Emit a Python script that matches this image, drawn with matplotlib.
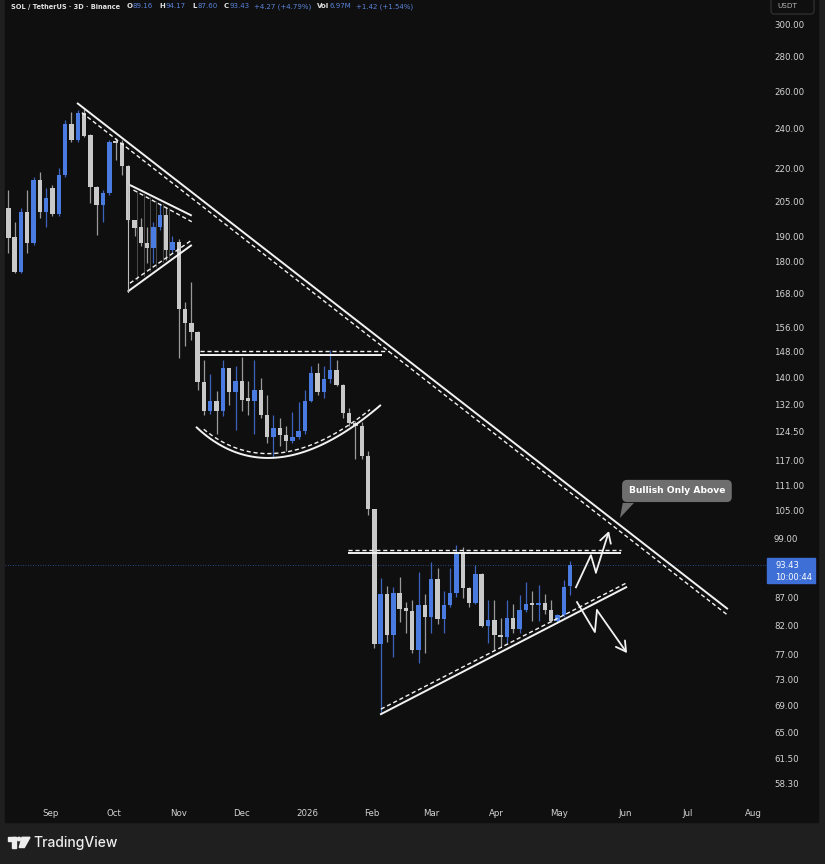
import numpy as np
import pandas as pd
import matplotlib
matplotlib.use('Agg')
import matplotlib.pyplot as plt
import matplotlib.dates as mdates
import matplotlib.transforms as mtransforms
from matplotlib.patches import Rectangle, FancyBboxPatch, Polygon, Circle
from matplotlib.ticker import FixedLocator, NullLocator, FuncFormatter

W, H = 825, 864

# SOL / USDT, 3-day candles
dates = pd.date_range('2025-08-12', periods=90, freq='3D')
opens = [202.0, 189.9, 176.0, 200.4, 187.1, 214.5, 200.4, 210.8, 199.6, 216.9,
         242.4, 234.2, 247.9, 236.5, 211.5, 203.3, 208.5, 233.1, 232.3, 221.2,
         196.9, 194.0, 187.1, 185.2, 194.0, 199.0, 184.5, 187.8, 162.5, 157.5,
         154.5, 138.8, 130.4, 133.2, 130.4, 142.9, 135.8, 139.0, 133.5, 133.2,
         136.3, 129.2, 123.2, 125.7, 123.7, 122.1, 123.1, 124.8, 133.2, 141.4,
         135.8, 139.5, 142.4, 137.8, 129.7, 127.0, 126.0, 118.1, 105.4, 78.8,
         87.8, 80.2, 88.0, 85.0, 84.6, 77.8, 85.7, 83.5, 90.7, 83.1,
         85.7, 88.0, 96.0, 88.8, 86.1, 91.6, 81.9, 83.0, 80.3, 79.9,
         83.2, 81.3, 84.7, 85.9, 85.6, 86.0, 84.7, 82.8, 83.8, 89.16]
highs = [210.0, 196.1, 201.9, 210.0, 216.1, 218.4, 210.8, 212.3, 220.1, 244.2,
         248.4, 249.5, 250.3, 237.0, 212.0, 210.0, 233.9, 235.0, 234.0, 221.5,
         197.0, 197.6, 194.0, 196.1, 204.0, 202.5, 190.0, 188.8, 165.0, 172.0,
         155.0, 145.3, 141.0, 136.0, 145.3, 143.0, 143.5, 146.5, 139.0, 145.3,
         139.8, 134.9, 129.2, 128.3, 126.0, 130.0, 132.9, 136.3, 143.5, 144.6,
         143.5, 148.6, 145.3, 138.0, 131.0, 127.5, 127.2, 119.4, 105.5, 90.8,
         89.3, 89.1, 91.0, 86.2, 86.5, 92.0, 87.8, 94.1, 92.8, 88.2,
         92.8, 97.5, 97.2, 89.1, 93.4, 91.8, 86.5, 86.5, 83.2, 86.6,
         85.9, 87.5, 90.0, 88.2, 89.4, 87.8, 86.6, 84.1, 90.4, 94.17]
lows = [183.3, 175.5, 175.5, 183.3, 186.5, 197.6, 194.0, 198.5, 198.5, 216.0,
        233.0, 233.0, 235.5, 204.0, 190.6, 196.1, 207.8, 224.0, 217.0, 196.0,
        190.0, 186.0, 179.3, 179.3, 192.7, 180.5, 183.3, 146.0, 149.8, 152.0,
        136.3, 129.2, 129.5, 124.0, 128.9, 132.0, 125.0, 130.4, 129.2, 124.0,
        128.3, 121.5, 117.7, 120.7, 119.4, 121.5, 122.6, 124.0, 132.7, 134.9,
        134.0, 138.3, 137.5, 128.4, 126.0, 117.5, 117.4, 104.0, 78.0, 67.7,
        79.0, 76.6, 82.6, 80.6, 77.2, 75.5, 77.2, 80.6, 82.3, 80.6,
        85.3, 87.2, 86.9, 85.3, 85.9, 81.7, 78.9, 77.7, 78.3, 78.9,
        80.6, 80.6, 84.4, 82.8, 82.8, 84.1, 82.5, 82.5, 83.5, 87.60]
closes = [189.4, 176.0, 200.4, 187.1, 214.5, 200.4, 206.3, 199.6, 216.9, 242.4,
          234.2, 247.9, 236.0, 211.5, 203.3, 208.5, 233.1, 232.3, 221.2, 196.9,
          193.3, 187.1, 185.2, 194.0, 199.0, 184.5, 187.8, 162.5, 157.5, 154.5,
          138.8, 130.4, 133.2, 130.4, 142.9, 135.8, 139.0, 133.5, 133.2, 136.3,
          129.2, 123.2, 125.7, 123.7, 122.1, 123.1, 124.8, 133.2, 141.4, 135.8,
          139.5, 142.4, 137.8, 129.7, 127.0, 126.0, 118.1, 105.4, 78.8, 87.8,
          80.2, 88.0, 85.0, 84.6, 77.8, 85.7, 83.5, 90.7, 83.1, 85.7,
          88.0, 96.0, 88.8, 86.1, 91.6, 81.9, 83.0, 80.3, 79.9, 83.2,
          81.3, 84.7, 85.9, 85.6, 86.0, 84.7, 82.8, 83.8, 89.0, 93.43]

price_ticks = [300, 280, 260, 240, 220, 205, 190, 180, 168, 156, 148, 140, 132,
               124.5, 117, 111, 105, 99, 87, 82, 77, 73, 69, 65, 61.5, 58.3]
month_ticks = ['2025-09-01', '2025-10-01', '2025-11-01', '2025-12-01', '2026-01-01',
               '2026-02-01', '2026-03-01', '2026-04-01', '2026-05-01', '2026-06-01',
               '2026-07-01', '2026-08-01']
month_labels = ['Sep', 'Oct', 'Nov', 'Dec', '2026', 'Feb', 'Mar', 'Apr', 'May',
                'Jun', 'Jul', 'Aug']
last_price = 93.43

# drawings on the chart (date, price)
main_line = [('2025-09-13 16:00', 253.5), ('2026-07-20', 84.9)]
main_dash = [('2025-09-16', 248.2), ('2026-07-19 14:00', 83.9)]
flag_top = [('2025-10-08 19:00', 212.3), ('2025-11-07 05:00', 198.7)]
flag_top_dash = [('2025-10-10 12:00', 210.0), ('2025-11-07 05:00', 196.1)]
flag_bot = [('2025-10-07 17:00', 168.6), ('2025-11-07 05:00', 186.5)]
flag_bot_dash = [('2025-10-08 19:00', 171.7), ('2025-11-07 05:00', 188.5)]
flag_edge = [('2025-10-07 17:00', 212.3), ('2025-10-07 17:00', 168.6)]
round_top = [('2025-11-11', 147.0), ('2026-02-05 12:00', 147.0)]
round_top_dash = [('2025-11-11', 148.4), ('2026-02-09', 148.4)]
round_arc = [('2025-11-09 05:00', 125.9), ('2025-12-15 07:00', 107.8), ('2026-02-05 02:00', 132.0)]
range_top = [('2026-01-20 14:00', 95.8), ('2026-05-30 05:00', 95.8)]
range_top_dash = [('2026-01-20 14:00', 96.5), ('2026-05-30 05:00', 96.5)]
rise_line = [('2026-02-04 17:00', 67.6), ('2026-06-02 02:00', 89.1)]
rise_dash = [('2026-02-05 02:00', 68.4), ('2026-06-02 02:00', 89.9)]
up_path = [('2026-05-08 19:00', 89.0), ('2026-05-15 22:00', 95.4),
           ('2026-05-18 07:00', 91.9), ('2026-05-24 12:00', 100.5)]
down_path = [('2026-05-09 07:00', 86.2), ('2026-05-17 19:00', 80.8),
             ('2026-05-18 19:00', 84.7), ('2026-06-02 02:00', 77.2)]
callout_tip = ('2026-05-29 17:00', 103.4)
callout_base = [('2026-05-31 01:00', 106.8), ('2026-06-05 09:00', 106.8)]
callout_text = ('2026-06-25 19:00', 109.6)

BG = '#0f0f0f'
OUTER = '#1f1f1f'
BLUE = '#4a7be0'
GRAY = '#c9c9c9'
TXT = '#d4d4d4'
LINE = '#f2f2f2'


def num(s):
    return mdates.date2num(pd.Timestamp(s))


def pts(p):
    return [num(a) for a, b in p], [b for a, b in p]


fig = plt.figure(figsize=(W / 100, H / 100), dpi=100, facecolor=OUTER)
px = mtransforms.Affine2D().scale(1 / W, -1 / H).translate(0, 1) + fig.transFigure
fig.patches.append(Rectangle((5, 0), 813, 822, transform=px, color=BG, zorder=-5))

ax = fig.add_axes([5 / W, (H - 797) / H, 762 / W, 797 / H])
ax.set_facecolor(BG)
for s in ax.spines.values():
    s.set_visible(False)

x = mdates.date2num(dates)
o, h, l, c = map(np.array, (opens, highs, lows, closes))
up = c >= o
ax.vlines(x, l, h, colors=np.where(up, '#3d64bd', '#9a9a9a'), lw=0.9, zorder=2)
lo = np.minimum(o, c)
hi = np.maximum(np.maximum(o, c), lo * 1.005)
ax.bar(x, hi - lo, bottom=lo, width=2.1, color=np.where(up, BLUE, GRAY), lw=0, zorder=3)

ax.set_yscale('log')
ax.set_ylim(56.57, 316.65)
ax.set_xlim(x[0] - 1.57, x[0] + 360.6)
ax.yaxis.set_major_locator(FixedLocator(price_ticks))
ax.yaxis.set_minor_locator(NullLocator())
ax.yaxis.set_major_formatter(FuncFormatter(lambda v, p: f'{v:.2f}'))
ax.yaxis.tick_right()
ax.tick_params(axis='y', length=0, pad=5, labelsize=6.2, labelcolor=TXT)
ax.set_xticks(mdates.date2num(pd.to_datetime(month_ticks)))
ax.set_xticklabels(month_labels)
ax.tick_params(axis='x', length=0, pad=9, labelsize=6.2, labelcolor=TXT)

# last price line
ax.axhline(last_price, color='#3d6fd6', lw=0.6, ls=(0, (1, 2)), alpha=0.8, zorder=1)

solid = dict(color=LINE, lw=1.4, zorder=4, solid_capstyle='butt')
dashed = dict(color=LINE, lw=1.0, ls=(0, (3, 2)), zorder=4)
for p in (main_line, flag_top, flag_bot, round_top, range_top, rise_line):
    ax.plot(*pts(p), **solid)
for p in (main_dash, flag_top_dash, flag_bot_dash, round_top_dash, range_top_dash, rise_dash):
    ax.plot(*pts(p), **dashed)
ax.plot(*pts(flag_edge), color='#bdbdbd', lw=0.8, zorder=4)

# faint hatch inside the flag
xa, ya = pts(flag_top_dash)
xb, yb = pts(flag_bot_dash)
for xq in x[20:26]:
    y1 = np.exp(np.interp(xq, xa, np.log(ya)))
    y2 = np.exp(np.interp(xq, xb, np.log(yb)))
    ax.plot([xq + 1.3, xq + 1.3], [y1, y2], color='#9a9a9a', lw=0.5, alpha=0.6, zorder=2)

# rounding bottom arc (quadratic bezier in date / log-price space)
P = np.array([[num(a), np.log(b)] for a, b in round_arc])
t = np.linspace(0, 1, 120)[:, None]
B = (1 - t) ** 2 * P[0] + 2 * t * (1 - t) * P[1] + t ** 2 * P[2]
ax.plot(B[:, 0], np.exp(B[:, 1]), **solid)
k = (t[:, 0] > 0.05) & (t[:, 0] < 0.95)
ax.plot(B[k, 0], np.exp(B[k, 1]) * 1.0095, **dashed)

# projected paths
for path in (up_path, down_path):
    xs, ys = pts(path)
    ax.plot(xs[:-1], ys[:-1], color=LINE, lw=1.3, zorder=5)
    ax.annotate('', xy=(xs[-1], ys[-1]), xytext=(xs[-2], ys[-2]),
                arrowprops=dict(arrowstyle='->,head_length=0.7,head_width=0.4',
                                color=LINE, lw=1.3, shrinkA=0, shrinkB=0), zorder=5)

# callout
ax.add_patch(Polygon([[num(callout_base[0][0]), callout_base[0][1]],
                      [num(callout_base[1][0]), callout_base[1][1]],
                      [num(callout_tip[0]), callout_tip[1]]],
                     closed=True, fc='#6e6e6e', ec='none', zorder=6))
ax.text(num(callout_text[0]), callout_text[1], 'Bullish Only Above', color='white',
        fontsize=6.6, fontweight='bold', ha='center', va='center', zorder=7,
        bbox=dict(boxstyle='round,pad=0.72,rounding_size=0.55', fc='#6e6e6e', ec='none'))

# price axis extras
fig.patches.append(Rectangle((767, 558), 48, 25, transform=px, color='#3d6fd6', zorder=3))
fig.text(775 / W, 1 - 565 / H, f'{last_price:.2f}', color='white', fontsize=6, va='center', zorder=4)
fig.text(775 / W, 1 - 577 / H, '10:00:44', color='white', fontsize=6, va='center', zorder=4)
fig.patches.append(FancyBboxPatch((771, -4), 43, 18, boxstyle='round,pad=0,rounding_size=3',
                                  transform=px, fc=BG, ec='#353535', lw=0.8, zorder=3))
fig.text(777 / W, 1 - 6 / H, 'USDT', color='#b8b8b8', fontsize=5.2, va='center', zorder=4)

# header legend
parts = [('O', 'w', 4.5), ('89.16', 'b', 0.4), ('H', 'w', 4.5), ('94.17', 'b', 0.4),
         ('L', 'w', 4.5), ('87.60', 'b', 0.4), ('C', 'w', 4.5), ('93.43', 'b', 0.4),
         ('+4.27 (+4.79%)', 'b', 3), ('Vol', 'w', 4.5), ('6.97M', 'b', 0.4),
         ('+1.42 (+1.54%)', 'b', 3)]
prev = fig.text(11 / W, 1 - 6.5 / H, 'SOL / TetherUS · 3D · Binance', color='#e0e0e0',
                fontsize=4.8, fontweight='bold', va='center')
for s, cc, gap in parts:
    prev = ax.annotate(s, xy=(1, 0.5), xycoords=prev, xytext=(gap, 0),
                       textcoords='offset points', va='center', ha='left', fontsize=5,
                       fontweight='bold' if cc == 'w' else 'normal',
                       color='#e0e0e0' if cc == 'w' else '#5a84dc', annotation_clip=False)

# TradingView mark
mark = '#eeeeee'
fig.patches.append(Rectangle((7.5, 837.3), 8.5, 3.4, transform=px, color=mark))
fig.patches.append(Rectangle((12.3, 837.3), 3.7, 10.2, transform=px, color=mark))
fig.patches.append(Circle((19, 839), 1.7, transform=px, color=mark))
fig.patches.append(Polygon([[22, 837.3], [30, 837.3], [24.3, 847.5], [19.3, 847.5]],
                           closed=True, transform=px, color=mark))
fig.text(33 / W, 1 - 843 / H, 'TradingView', color=mark, fontsize=10,
         family='Inter', fontweight='medium', va='center')

fig.savefig('out.png', dpi=100, facecolor=OUTER)
